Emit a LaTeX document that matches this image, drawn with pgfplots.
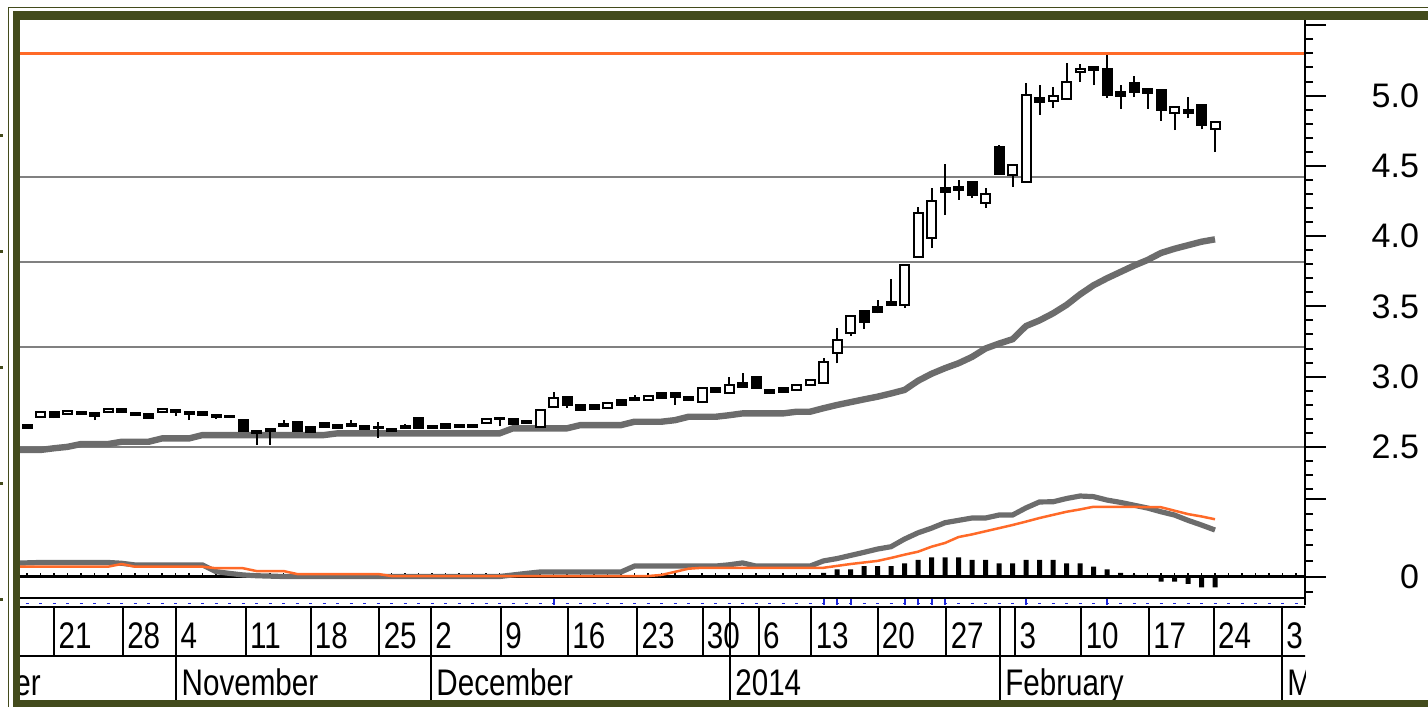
\documentclass[border=0pt]{standalone}
\usepackage{pgfplots}
\pgfplotsset{compat=1.18}
\usepackage{pgfplotstable}
\usepackage{fontspec}
\setmainfont{Liberation Sans}
\newfontfamily\datefam[FakeStretch=0.8]{Liberation Sans}
\definecolor{framecol}{RGB}{67,75,28}
\definecolor{lvlgray}{RGB}{128,128,128}
\definecolor{magray}{RGB}{108,108,108}
\definecolor{sigorange}{RGB}{255,106,40}
\definecolor{evblue}{RGB}{30,40,220}
\newcommand{\tickfont}{\fontsize{17}{19}\selectfont}
\newcommand{\datefont}{\datefam\fontsize{18.5}{20}\selectfont}

% daily candles: index, open, high, low, close
\pgfplotstableread{
i o h l c
0 2.656 2.660 2.630 2.634
1 2.715 2.750 2.710 2.745
2 2.745 2.750 2.705 2.715
3 2.735 2.760 2.730 2.755
4 2.750 2.755 2.730 2.735
5 2.740 2.745 2.690 2.720
6 2.745 2.780 2.740 2.770
7 2.770 2.775 2.745 2.750
8 2.740 2.745 2.720 2.725
9 2.735 2.740 2.700 2.705
10 2.745 2.775 2.740 2.770
11 2.765 2.770 2.720 2.750
12 2.750 2.755 2.690 2.735
13 2.745 2.750 2.725 2.730
14 2.725 2.730 2.700 2.710
15 2.720 2.725 2.705 2.710
16 2.690 2.695 2.610 2.615
17 2.615 2.620 2.515 2.600
18 2.630 2.635 2.515 2.610
19 2.645 2.690 2.640 2.665
20 2.675 2.680 2.610 2.615
21 2.640 2.645 2.600 2.605
22 2.670 2.675 2.635 2.640
23 2.655 2.660 2.630 2.635
24 2.645 2.690 2.640 2.665
25 2.645 2.650 2.625 2.630
26 2.635 2.675 2.565 2.640
27 2.625 2.630 2.610 2.615
28 2.650 2.660 2.630 2.635
29 2.705 2.710 2.630 2.634
30 2.645 2.650 2.630 2.635
31 2.660 2.665 2.630 2.635
32 2.655 2.660 2.635 2.640
33 2.640 2.660 2.635 2.655
34 2.670 2.700 2.665 2.695
35 2.705 2.710 2.645 2.695
36 2.700 2.705 2.655 2.660
37 2.685 2.690 2.665 2.670
38 2.640 2.770 2.635 2.765
39 2.785 2.890 2.780 2.850
40 2.855 2.860 2.775 2.800
41 2.800 2.805 2.760 2.765
42 2.795 2.800 2.765 2.770
43 2.780 2.815 2.775 2.810
44 2.830 2.835 2.795 2.800
45 2.830 2.870 2.825 2.845
46 2.835 2.870 2.830 2.865
47 2.880 2.885 2.845 2.850
48 2.880 2.885 2.800 2.855
49 2.855 2.860 2.825 2.830
50 2.820 2.925 2.815 2.920
51 2.920 2.925 2.885 2.890
52 2.885 2.995 2.880 2.940
53 2.955 3.025 2.920 2.925
54 2.997 3.000 2.915 2.920
55 2.905 2.910 2.875 2.885
56 2.920 2.925 2.885 2.890
57 2.905 2.945 2.900 2.940
58 2.940 2.980 2.935 2.975
59 2.955 3.130 2.950 3.105
60 3.170 3.345 3.095 3.260
61 3.310 3.435 3.290 3.430
62 3.467 3.470 3.340 3.390
63 3.495 3.545 3.450 3.460
64 3.530 3.695 3.505 3.510
65 3.510 3.800 3.490 3.795
66 3.850 4.207 3.845 4.165
67 3.986 4.343 3.915 4.250
68 4.340 4.513 4.150 4.315
69 4.350 4.400 4.260 4.330
70 4.385 4.390 4.270 4.290
71 4.235 4.340 4.200 4.300
72 4.634 4.645 4.435 4.442
73 4.435 4.510 4.350 4.506
74 4.385 5.090 4.380 5.004
75 4.983 5.076 4.862 4.955
76 4.962 5.060 4.912 4.997
77 4.976 5.232 4.976 5.097
78 5.170 5.225 5.097 5.190
79 5.204 5.210 5.075 5.182
80 5.190 5.289 4.983 5.004
81 5.025 5.076 4.905 4.997
82 5.090 5.140 4.990 5.026
83 5.047 5.050 4.905 5.018
84 5.040 5.045 4.820 4.897
85 4.876 4.920 4.755 4.918
86 4.897 4.990 4.840 4.876
87 4.933 4.940 4.760 4.790
88 4.763 4.815 4.598 4.812
}\candles

% moving average
\pgfplotstableread{
i v
-1 2.478
1 2.478
2 2.490
3 2.500
4 2.520
6 2.520
7 2.536
9 2.536
10 2.560
12 2.560
13 2.584
22 2.584
23 2.596
35 2.596
36 2.632
40 2.632
41 2.655
44 2.655
45 2.679
47 2.679
48 2.690
49 2.714
51 2.714
52 2.725
53 2.738
56 2.738
57 2.750
58 2.750
59 2.775
60 2.798
61 2.818
62 2.838
63 2.857
64 2.880
65 2.905
66 2.970
67 3.020
68 3.060
69 3.095
70 3.140
71 3.200
72 3.235
73 3.266
74 3.360
75 3.400
76 3.450
77 3.510
78 3.585
79 3.650
80 3.700
81 3.745
82 3.790
83 3.830
84 3.880
85 3.910
86 3.935
87 3.960
88 3.977
}\mavg

% MACD line (m) and signal (s)
\pgfplotstableread{
i m s
-1 0.085 0.063
1 0.090 0.063
6 0.090 0.063
7 0.085 0.080
8 0.074 0.063
13 0.074 0.063
14 0.031 0.053
15 0.020 0.053
16 0.010 0.053
17 0.005 0.035
19 0.000 0.035
20 0.000 0.016
26 0.000 0.016
27 0.000 0.003
35 0.000 0.003
36 0.010 0.003
37 0.020 0.003
38 0.029 0.003
44 0.029 0.003
45 0.067 0.003
46 0.067 0.003
47 0.067 0.010
48 0.067 0.030
49 0.067 0.050
50 0.067 0.056
51 0.067 0.056
52 0.075 0.056
53 0.087 0.056
54 0.067 0.056
58 0.067 0.056
59 0.100 0.056
60 0.115 0.068
61 0.135 0.080
62 0.155 0.090
63 0.176 0.100
64 0.191 0.119
65 0.240 0.140
66 0.280 0.159
67 0.310 0.191
68 0.345 0.215
69 0.360 0.253
70 0.375 0.270
71 0.375 0.290
72 0.394 0.310
73 0.394 0.330
74 0.440 0.352
75 0.478 0.375
76 0.479 0.395
77 0.500 0.415
78 0.516 0.430
79 0.512 0.447
80 0.490 0.447
81 0.475 0.447
82 0.457 0.446
83 0.439 0.445
84 0.415 0.444
85 0.394 0.422
86 0.360 0.400
87 0.330 0.385
88 0.298 0.367
}\macd

% MACD histogram
\pgfplotstableread{
i h
59 0.024
60 0.046
61 0.046
62 0.067
63 0.067
64 0.067
65 0.085
66 0.106
67 0.123
68 0.123
69 0.123
70 0.106
71 0.106
72 0.085
73 0.085
74 0.106
75 0.106
76 0.106
77 0.085
78 0.085
79 0.063
80 0.046
81 0.024
82 0.010
83 0.004
84 -0.033
85 -0.033
86 -0.048
87 -0.069
88 -0.069
}\hist

\pgfplotsset{
  panel/.style={scale only axis, width=642.5pt, xmin=-0.5185, xmax=94.667},
  rticks/.style={tick align=outside, major tick length=10.5pt, minor tick length=4pt,
    tick style={black, line width=1pt},
    y axis line style={line width=1.25pt, -},
    yticklabel style={font=\tickfont, anchor=east, xshift=50pt}},
}

\begin{document}
\begin{tikzpicture}
\useasboundingbox (0,0) rectangle (714pt,-353.5pt);

% ---------- price panel: levels, moving average, wicks, right scale
\begin{axis}[panel, rticks,
  at={(10pt,-302.5pt)}, anchor=south west, height=292.5pt,
  ymin=1.37435, ymax=5.53805,
  axis x line=none, axis y line*=right,
  ytick={2.5,3,3.5,4,4.5,5,5.5},
  yticklabels={2.5,3.0,3.5,4.0,4.5,5.0,{}},
  minor ytick={2.2,2.3,2.4,2.6,2.7,2.8,2.9,3.1,3.2,3.3,3.4,3.6,3.7,3.8,3.9,4.1,4.2,4.3,4.4,4.6,4.7,4.8,4.9,5.1,5.2,5.3,5.4},
  clip=true]
\addplot[sigorange, line width=1.25pt] coordinates {(-1,5.30) (96,5.30)};
\addplot[lvlgray, line width=1.25pt] coordinates {(-1,4.42) (96,4.42)};
\addplot[lvlgray, line width=1.25pt] coordinates {(-1,3.815) (96,3.815)};
\addplot[lvlgray, line width=1.25pt] coordinates {(-1,3.21) (96,3.21)};
\addplot[lvlgray, line width=1.25pt] coordinates {(-1,2.50) (96,2.50)};
\addplot[magray, line width=3.2pt] table[x=i, y=v] {\mavg};
\addplot[draw=none, no markers, error bars/.cd, y dir=plus, y explicit,
  error mark=none, error bar style={draw=black, line width=1pt}]
  table[x=i, y=l, y error expr={\thisrow{h}-\thisrow{l}}] {\candles};
\end{axis}

% ---------- candle bodies
\begin{axis}[panel,
  at={(10pt,-302.5pt)}, anchor=south west, height=292.5pt,
  ymin=1.37435, ymax=5.53805, hide axis, ybar stacked, bar width=4.5pt, clip=true]
\addplot[draw=none, fill=none] table[x=i, y expr={min(\thisrow{o},\thisrow{c})}] {\candles};
\addplot[draw=black, fill=white, line width=1pt] table[x=i, y expr={max(\thisrow{c}-\thisrow{o},0)}] {\candles};
\addplot[draw=black, fill=black, line width=1pt] table[x=i, y expr={max(\thisrow{o}-\thisrow{c},0)}] {\candles};
\end{axis}

% ---------- MACD panel
\begin{axis}[panel, rticks,
  at={(10pt,-302.5pt)}, anchor=south west, height=292.5pt,
  ymin=-0.18269, ymax=3.5673,
  axis x line*=middle, axis y line*=right,
  x axis line style={line width=1.25pt, -},
  xtick={0,...,94}, xticklabels={}, xtick align=inside,
  xtick style={line width=0.6pt, /pgfplots/major tick length=2pt},
  ytick={0,0.5}, yticklabels={0,{}}, minor ytick={-0.1,0.1,0.2,0.3,0.4},
  hide obscured y ticks=false, hide obscured x ticks=false,
  clip=true]
\addplot[ybar, bar width=2.5pt, fill=black, draw=none] table[x=i, y=h] {\hist};
\addplot[magray, line width=2.6pt] table[x=i, y=m] {\macd};
\addplot[sigorange, line width=1.25pt] table[x=i, y=s] {\macd};
\end{axis}

% ---------- date strip
\begin{axis}[panel,
  at={(10pt,-298.5pt)}, anchor=north west, height=51.5pt,
  ymin=597, ymax=700, y dir=reverse, hide axis, clip=true, clip mode=global]
\draw[line width=1pt] (axis cs:-1,597.5) -- (axis cs:96,597.5);
\draw[line width=1pt] (axis cs:-1,606.5) -- (axis cs:96,606.5);
\draw[line width=1pt] (axis cs:-1,656) -- (axis cs:96,656);
\draw[evblue, line width=0.6pt, dash pattern=on 1.5pt off 5.25pt, dash phase=4pt] (axis cs:-0.5185,603.5) -- (axis cs:94.667,603.5);
\addplot[only marks, mark=|, mark size=1.5pt, evblue, mark options={line width=1pt}]
  coordinates {(39,601.5) (59,601.5) (60,601.5) (61,601.5) (65,601.5) (66,601.5) (67,601.5) (68,601.5) (74,601.5) (80,601.5)};
\pgfplotsinvokeforeach{2.02,7.10,16.2,21.0,26.1,35.1,40.07,45.2,50.04,54.2,58.1,63.0,68.1,73.2,78.1,83.1,87.9}{
  \draw[line width=1pt] (axis cs:#1,606.5) -- (axis cs:#1,656);}
\pgfplotsinvokeforeach{11.06,29.93,52.07,72.07,92.96}{
  \draw[line width=1pt] (axis cs:#1,606.5) -- (axis cs:#1,700);}
\foreach \d/\t in {2.02/21,7.10/28,11.06/4,16.2/11,21.0/18,26.1/25,29.93/2,35.1/9,40.07/16,45.2/23,50.04/30,54.2/6,58.1/13,63.0/20,68.1/27,73.2/3,78.1/10,83.1/17,87.9/24,92.96/3}{
  \edef\tmp{\noexpand\node[anchor=base west, inner sep=0pt, font=\noexpand\datefont, xshift=2pt] at (axis cs:\d,648) {\t};}\tmp}
\begin{scope}
\clip (axis cs:-0.5185,656) rectangle (axis cs:11.06,700);
\node[anchor=base east, inner sep=0pt, font=\datefont] at (axis cs:1.04,695) {October};
\end{scope}
\node[anchor=base west, inner sep=0pt, font=\datefont, xshift=2.5pt] at (axis cs:11.06,695) {November};
\node[anchor=base west, inner sep=0pt, font=\datefont, xshift=2.5pt] at (axis cs:29.93,695) {December};
\node[anchor=base west, inner sep=0pt, font=\datefont, xshift=2.5pt] at (axis cs:52.07,695) {2014};
\node[anchor=base west, inner sep=0pt, font=\datefont, xshift=2.5pt] at (axis cs:72.07,695) {February};
\node[anchor=base west, inner sep=0pt, font=\datefont, xshift=2.5pt] at (axis cs:92.96,695) {March};
\end{axis}

% ---------- outer frame
\begin{scope}[x=0.5pt, y=-0.5pt]
\fill[framecol] (13,11) rectangle (1428,19.5);
\fill[framecol] (13,11) rectangle (20,707);
\fill[framecol] (13,699.5) rectangle (1428,707);
\draw[framecol, line width=0.8pt] (8.5,707) -- (8.5,7.5) -- (1428,7.5);
\foreach \yy in {135,251,367,483,599}{\fill[framecol] (0,\yy-1.5) rectangle (3,\yy+1.5);}
\end{scope}
\end{tikzpicture}
\end{document}
